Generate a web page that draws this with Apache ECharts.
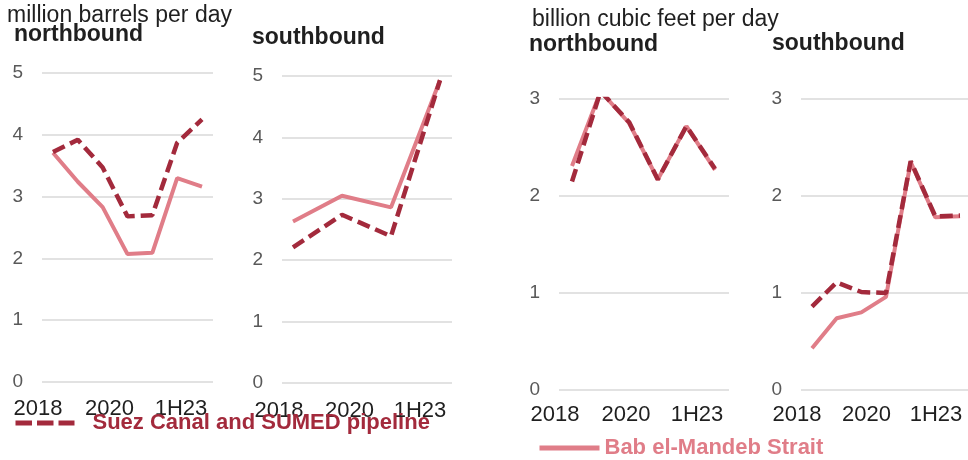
<!DOCTYPE html>
<html><head><meta charset="utf-8">
<script src="https://cdn.jsdelivr.net/npm/echarts@6/dist/echarts.min.js"></script>
<style>html,body{margin:0;padding:0;background:#fff}#c{width:968px;height:460px}</style>
</head><body><div id="c"></div><script>
// ---- data ----
const tickLabels = ['2018', '2020', '1H23'];
const seriesNames = ['Suez Canal and SUMED pipeline', 'Bab el-Mandeb Strait'];
// crude oil & petroleum products, million barrels per day
const oilNorthPeriods = ['p1', 'p2', 'p3', 'p4', 'p5', 'p6', 'p7'];
const oilNorthSuez = [3.72, 3.92, 3.47, 2.68, 2.70, 3.87, 4.25];
const oilNorthBab  = [3.71, 3.24, 2.83, 2.07, 2.09, 3.30, 3.16];
const oilSouthPeriods = ['p1', 'p2', 'p3', 'p4'];
const oilSouthSuez = [2.21, 2.74, 2.39, 4.93];
const oilSouthBab  = [2.63, 3.05, 2.86, 4.93];
// LNG, billion cubic feet per day
const lngNorthPeriods = ['p1', 'p2', 'p3', 'p4', 'p5', 'p6'];
const lngNorthSuez = [2.15, 3.08, 2.76, 2.17, 2.72, 2.28];
const lngNorthBab  = [2.31, 3.08, 2.75, 2.17, 2.72, 2.27];
const lngSouthPeriods = ['p1', 'p2', 'p3', 'p4', 'p5', 'p6', 'p7'];
const lngSouthSuez = [0.86, 1.11, 1.01, 1.00, 2.36, 1.79, 1.80];
const lngSouthBab  = [0.43, 0.74, 0.80, 0.96, 2.35, 1.78, 1.79];

// ---- layout / style ----
const FONT = "'Liberation Sans', Arial, sans-serif";
const DARK = '#a32a3c', PINK = '#e07d88';
const panels = [
  {periods: oilNorthPeriods, suez: oilNorthSuez, bab: oilNorthBab, max: 5,
   gl: 42, gw: 171, top: 73, bottom: 382, dl: 53, dw: 149, ll: 38, lw: 143, lc: 409},
  {periods: oilSouthPeriods, suez: oilSouthSuez, bab: oilSouthBab, max: 5,
   gl: 282, gw: 170, top: 76, bottom: 383, dl: 293, dw: 147, ll: 279, lw: 141, lc: 411},
  {periods: lngNorthPeriods, suez: lngNorthSuez, bab: lngNorthBab, max: 3,
   gl: 559, gw: 170, top: 99, bottom: 390, dl: 572, dw: 143, ll: 555, lw: 142, lc: 415},
  {periods: lngSouthPeriods, suez: lngSouthSuez, bab: lngSouthBab, max: 3,
   gl: 801, gw: 170, top: 99, bottom: 390, dl: 812, dw: 148, ll: 797, lw: 139, lc: 415}
];

const grid = [], xAxis = [], yAxis = [], series = [];
panels.forEach(p => {
  const h = p.bottom - p.top;
  // gridline grid
  let gi = grid.length;
  grid.push({left: p.gl, top: p.top, width: p.gw, height: h, outerBoundsMode: 'none'});
  xAxis.push({gridIndex: gi, type: 'value', show: false});
  yAxis.push({gridIndex: gi, type: 'value', min: 0, max: p.max, interval: 1,
    axisLine: {show: false}, axisTick: {show: false},
    axisLabel: {color: '#595959', fontSize: 19, margin: 19, fontFamily: FONT},
    splitLine: {lineStyle: {color: '#d9d9d9', width: 1.5}}});
  // data grid
  gi = grid.length;
  grid.push({left: p.dl, top: p.top, width: p.dw, height: h, outerBoundsMode: 'none'});
  xAxis.push({gridIndex: gi, type: 'category', data: p.periods, boundaryGap: false, show: false});
  yAxis.push({gridIndex: gi, type: 'value', min: 0, max: p.max, show: false});
  series.push({type: 'line', name: seriesNames[1], xAxisIndex: gi, yAxisIndex: gi, data: p.bab,
    symbol: 'none', silent: true, z: 2,
    lineStyle: {color: PINK, width: 4}, itemStyle: {color: PINK}});
  series.push({type: 'line', name: seriesNames[0], xAxisIndex: gi, yAxisIndex: gi, data: p.suez,
    symbol: 'none', silent: true, z: 3,
    lineStyle: {color: DARK, width: 4.5, type: [13, 6]}, itemStyle: {color: DARK}});
  // tick label grid
  gi = grid.length;
  grid.push({left: p.ll, top: p.lc - 20, width: p.lw, height: 1, outerBoundsMode: 'none'});
  xAxis.push({gridIndex: gi, type: 'category', data: tickLabels, boundaryGap: false,
    axisLine: {show: false}, axisTick: {show: false},
    axisLabel: {color: '#1f1f1f', fontSize: 22, margin: 8, fontFamily: FONT, interval: 0}});
  yAxis.push({gridIndex: gi, type: 'value', show: false});
});

const titleStyle = (w) => ({fontFamily: FONT, fontSize: 23, fontWeight: w, color: '#1f1f1f'});
const option = {
  animation: false,
  title: [
    {text: 'million barrels per day', left: 7, top: 4, padding: 0, textStyle: titleStyle('normal')},
    {text: 'northbound', left: 14, top: 23, padding: 0, textStyle: titleStyle('bold')},
    {text: 'southbound', left: 252, top: 26.5, padding: 0, textStyle: titleStyle('bold')},
    {text: 'billion cubic feet per day', left: 532, top: 8.5, padding: 0, textStyle: titleStyle('normal')},
    {text: 'northbound', left: 529, top: 33.5, padding: 0, textStyle: titleStyle('bold')},
    {text: 'southbound', left: 772, top: 32.5, padding: 0, textStyle: titleStyle('bold')}
  ],
  legend: [
    {data: [seriesNames[0]], left: 13, top: 412, padding: 0, itemWidth: 59, itemHeight: 14,
     selectedMode: false,
     itemStyle: {opacity: 0, borderWidth: 0},
     lineStyle: {color: DARK, width: 5, type: [16.5, 5], cap: 'butt'},
     textStyle: {color: DARK, fontWeight: 'bold', fontSize: 22, fontFamily: FONT, padding: [0, 0, 0, 13]}},
    {data: [seriesNames[1]], left: 537, top: 437, padding: 0, itemWidth: 60, itemHeight: 14,
     selectedMode: false,
     itemStyle: {opacity: 0, borderWidth: 0},
     lineStyle: {color: PINK, width: 5, type: 'solid'},
     textStyle: {color: PINK, fontWeight: 'bold', fontSize: 22, fontFamily: FONT}}
  ],
  grid, xAxis, yAxis, series
};
const chart = echarts.init(document.getElementById('c'));
chart.setOption(option);
</script></body></html>
